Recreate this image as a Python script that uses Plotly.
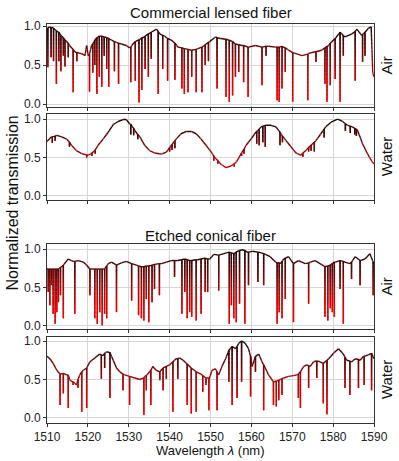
import numpy as np
import plotly.graph_objects as go
from plotly.colors import sample_colorscale

# ---- Commercial lensed fiber, air ----
air1_wl = [1510.0, 1510.5, 1511.5, 1512.8, 1514.4, 1515.5, 1516.8, 1518.5, 1519.3, 1519.7, 1520.1, 1520.9,
           1521.7, 1522.9, 1524.1, 1525.8, 1527.0, 1528.2, 1529.4, 1530.2, 1531.0, 1532.3, 1533.9, 1535.5,
           1536.8, 1537.6, 1538.8, 1540.4, 1542.0, 1543.7, 1545.3, 1546.9, 1548.5, 1549.8, 1551.2, 1552.4,
           1554.5, 1556.1, 1557.7, 1559.3, 1561.0, 1562.6, 1564.2, 1565.9, 1567.5, 1569.1, 1570.7, 1572.4,
           1574.0, 1575.6, 1577.2, 1578.9, 1580.5, 1581.7, 1582.9, 1584.6, 1585.8, 1587.0, 1587.8, 1588.6,
           1589.3, 1589.7, 1590.0]
air1_t = [0.97, 0.99, 0.98, 0.92, 0.82, 0.75, 0.67, 0.645, 0.62, 0.75, 0.62, 0.75,
          0.82, 0.87, 0.86, 0.82, 0.79, 0.77, 0.75, 0.72, 0.77, 0.82, 0.86, 0.92,
          0.96, 0.90, 0.87, 0.82, 0.73, 0.71, 0.69, 0.71, 0.75, 0.80, 0.86, 0.84,
          0.82, 0.77, 0.75, 0.73, 0.75, 0.73, 0.74, 0.73, 0.74, 0.69, 0.65, 0.62,
          0.65, 0.67, 0.69, 0.75, 0.84, 0.92, 0.86, 0.90, 0.96, 0.88, 0.92, 0.97,
          0.99, 0.40, 0.35]
air1_dip_wl = [1510.2, 1511.0, 1511.6, 1512.3, 1512.9, 1513.4, 1514.0, 1514.4, 1515.2, 1516.4, 1517.3, 1520.4,
               1521.2, 1521.7, 1522.2, 1522.8, 1523.4, 1524.0, 1524.6, 1525.1, 1526.5, 1527.5, 1530.5, 1531.6,
               1532.5, 1533.2, 1534.0, 1534.8, 1535.5, 1537.2, 1538.3, 1539.5, 1541.3, 1543.0, 1543.6, 1544.5,
               1545.4, 1546.5, 1547.9, 1548.7, 1549.5, 1551.6, 1553.8, 1554.6, 1555.4, 1556.1, 1556.9, 1558.1,
               1559.2, 1562.6, 1563.6, 1566.3, 1566.8, 1567.5, 1568.3, 1570.1, 1573.8, 1575.8, 1578.0, 1578.5,
               1579.3, 1580.5, 1581.7, 1582.5, 1585.4, 1587.2, 1587.8]
air1_dip_top = [0.97, 0.98, 0.97, 0.94, 0.92, 0.88, 0.85, 0.82, 0.78, 0.70, 0.66, 0.64,
                0.77, 0.82, 0.85, 0.87, 0.87, 0.86, 0.85, 0.84, 0.80, 0.78, 0.73, 0.80,
                0.82, 0.85, 0.87, 0.90, 0.92, 0.93, 0.88, 0.84, 0.78, 0.72, 0.71, 0.70,
                0.69, 0.70, 0.73, 0.76, 0.79, 0.85, 0.83, 0.82, 0.80, 0.77, 0.76, 0.75,
                0.73, 0.73, 0.74, 0.73, 0.73, 0.74, 0.72, 0.66, 0.64, 0.67, 0.72, 0.74,
                0.78, 0.84, 0.92, 0.88, 0.93, 0.89, 0.92]
air1_dip_low = [0.47, 0.60, 0.55, 0.26, 0.55, 0.42, 0.62, 0.48, 0.60, 0.15, 0.55, 0.16,
                0.40, 0.50, 0.13, 0.35, 0.22, 0.62, 0.45, 0.22, 0.42, 0.26, 0.28, 0.30,
                0.02, 0.18, 0.45, 0.35, 0.58, 0.13, 0.45, 0.30, 0.31, 0.20, 0.13, 0.15,
                0.35, 0.15, 0.15, 0.50, 0.55, 0.20, 0.09, 0.03, 0.11, 0.35, 0.41, 0.28,
                0.09, 0.24, 0.62, 0.05, 0.03, 0.20, 0.41, 0.03, 0.05, 0.54, 0.26, 0.03,
                0.24, 0.32, 0.03, 0.62, 0.30, 0.54, 0.62]

# ---- Commercial lensed fiber, water ----
water1_wl = [1510.0, 1511.1, 1512.4, 1513.6, 1514.8, 1516.0, 1517.2, 1518.5, 1520.1, 1521.3, 1522.5, 1523.7,
             1525.0, 1526.2, 1527.4, 1528.6, 1529.4, 1530.2, 1531.5, 1532.7, 1533.9, 1535.1, 1536.3, 1538.0,
             1539.2, 1540.4, 1541.6, 1542.8, 1544.1, 1545.3, 1546.5, 1547.7, 1548.9, 1550.2, 1551.4, 1552.6,
             1553.8, 1555.0, 1556.3, 1557.5, 1558.7, 1559.9, 1561.1, 1562.4, 1563.6, 1564.8, 1566.0, 1567.2,
             1568.5, 1569.7, 1570.9, 1572.1, 1573.3, 1574.6, 1575.8, 1577.0, 1578.2, 1579.5, 1581.1, 1582.3,
             1583.5, 1584.7, 1586.0, 1587.2, 1588.4, 1589.6, 1590.0]
water1_t = [0.71, 0.77, 0.79, 0.77, 0.74, 0.66, 0.59, 0.55, 0.53, 0.57, 0.66, 0.74,
            0.83, 0.93, 0.97, 0.995, 0.995, 0.94, 0.85, 0.77, 0.66, 0.59, 0.56, 0.545,
            0.57, 0.66, 0.74, 0.81, 0.84, 0.84, 0.81, 0.74, 0.66, 0.57, 0.48, 0.41,
            0.37, 0.39, 0.44, 0.55, 0.66, 0.74, 0.83, 0.90, 0.92, 0.92, 0.90, 0.81,
            0.72, 0.64, 0.56, 0.53, 0.59, 0.66, 0.72, 0.81, 0.90, 0.96, 1.0, 0.97,
            0.92, 0.90, 0.85, 0.68, 0.55, 0.44, 0.42]
water1_dip_wl = [1511.3, 1512.0, 1515.5, 1519.7, 1521.0, 1521.8, 1530.5, 1531.2, 1532.2, 1540.0, 1540.6, 1541.3,
                 1550.8, 1551.8, 1555.8, 1557.6, 1558.2, 1561.3, 1561.9, 1562.8, 1563.4, 1567.0, 1567.6, 1572.6,
                 1574.0, 1574.6, 1575.4, 1577.8, 1583.0, 1584.2, 1585.3, 1585.7]
water1_dip_top = [0.77, 0.78, 0.70, 0.535, 0.56, 0.60, 0.93, 0.88, 0.80, 0.63, 0.67, 0.72,
                  0.52, 0.46, 0.42, 0.56, 0.61, 0.84, 0.87, 0.91, 0.92, 0.83, 0.78, 0.56,
                  0.63, 0.66, 0.70, 0.87, 0.94, 0.91, 0.88, 0.87]
water1_dip_low = [0.69, 0.72, 0.64, 0.50, 0.52, 0.55, 0.80, 0.79, 0.74, 0.58, 0.60, 0.62,
                  0.46, 0.42, 0.38, 0.52, 0.55, 0.68, 0.66, 0.70, 0.64, 0.66, 0.70, 0.51,
                  0.58, 0.59, 0.58, 0.76, 0.85, 0.82, 0.80, 0.78]

# ---- Etched conical fiber, air ----
air2_wl = [1510.0, 1511.1, 1512.8, 1514.0, 1515.2, 1516.4, 1517.6, 1518.9, 1519.7, 1520.5, 1521.7, 1523.3,
           1524.1, 1525.0, 1525.8, 1527.0, 1528.2, 1529.4, 1530.7, 1531.9, 1533.1, 1534.7, 1536.3, 1538.0,
           1539.2, 1540.4, 1542.0, 1543.7, 1545.3, 1546.9, 1548.5, 1549.8, 1550.8, 1552.0, 1553.3, 1554.5,
           1555.7, 1556.9, 1557.7, 1558.9, 1560.2, 1561.8, 1563.4, 1564.6, 1565.9, 1567.1, 1567.9, 1569.1,
           1570.3, 1571.5, 1573.2, 1574.4, 1575.6, 1576.8, 1578.0, 1579.3, 1580.5, 1581.7, 1582.9, 1584.1,
           1585.4, 1586.6, 1587.8, 1589.0, 1589.8, 1590.0]
air2_t = [0.74, 0.74, 0.74, 0.79, 0.87, 0.84, 0.85, 0.83, 0.79, 0.74, 0.74, 0.74,
          0.74, 0.81, 0.83, 0.79, 0.82, 0.84, 0.81, 0.79, 0.77, 0.78, 0.80, 0.81,
          0.83, 0.85, 0.85, 0.87, 0.85, 0.86, 0.88, 0.87, 0.93, 0.92, 0.94, 0.96,
          0.94, 0.98, 0.99, 0.96, 0.97, 0.96, 0.93, 0.90, 0.83, 0.81, 0.87, 0.90,
          0.81, 0.85, 0.81, 0.83, 0.85, 0.81, 0.77, 0.79, 0.83, 0.85, 0.83, 0.81,
          0.90, 0.85, 0.87, 0.94, 0.83, 0.80]
air2_dip_wl = [1510.3, 1510.7, 1511.1, 1511.5, 1512.0, 1512.4, 1512.8, 1513.3, 1514.0, 1516.8, 1520.5, 1521.7,
               1522.3, 1522.9, 1523.5, 1524.1, 1524.6, 1527.0, 1530.7, 1532.4, 1533.1, 1533.7, 1534.3, 1534.9,
               1535.7, 1536.3, 1537.5, 1541.2, 1543.0, 1543.7, 1544.3, 1544.9, 1545.4, 1546.5, 1547.7, 1548.7,
               1549.3, 1552.0, 1554.6, 1555.1, 1555.7, 1556.3, 1557.1, 1558.4, 1559.3, 1561.6, 1563.0, 1566.3,
               1566.8, 1567.5, 1568.3, 1570.3, 1574.0, 1578.0, 1578.7, 1579.3, 1579.8, 1580.3, 1581.7, 1582.5,
               1584.5, 1586.6, 1589.8]
air2_dip_top = [0.74, 0.74, 0.74, 0.74, 0.74, 0.74, 0.74, 0.76, 0.79, 0.84, 0.74, 0.74,
                0.74, 0.74, 0.74, 0.74, 0.78, 0.79, 0.81, 0.78, 0.77, 0.77, 0.78, 0.78,
                0.79, 0.80, 0.81, 0.85, 0.86, 0.87, 0.86, 0.85, 0.85, 0.86, 0.87, 0.88,
                0.87, 0.92, 0.96, 0.95, 0.94, 0.96, 0.98, 0.98, 0.96, 0.96, 0.94, 0.82,
                0.82, 0.84, 0.88, 0.81, 0.82, 0.77, 0.78, 0.79, 0.81, 0.83, 0.85, 0.84,
                0.83, 0.85, 0.83]
air2_dip_low = [0.44, 0.27, 0.53, 0.16, 0.03, 0.18, 0.31, 0.40, 0.10, 0.16, 0.40, 0.10,
                0.03, 0.18, 0.01, 0.16, 0.10, 0.18, 0.33, 0.14, 0.10, 0.07, 0.35, 0.05,
                0.31, 0.48, 0.40, 0.64, 0.16, 0.44, 0.10, 0.18, 0.12, 0.07, 0.16, 0.44,
                0.44, 0.46, 0.03, 0.27, 0.10, 0.05, 0.29, 0.03, 0.53, 0.57, 0.53, 0.03,
                0.18, 0.10, 0.35, 0.05, 0.29, 0.12, 0.07, 0.23, 0.18, 0.12, 0.48, 0.03,
                0.61, 0.53, 0.40]

# ---- Etched conical fiber, water ----
water2_wl = [1510.0, 1510.7, 1511.5, 1512.4, 1513.2, 1514.0, 1514.8, 1515.6, 1516.4, 1517.2, 1518.0, 1518.9,
             1519.7, 1520.5, 1521.7, 1522.9, 1523.7, 1524.6, 1525.4, 1526.2, 1527.0, 1527.8, 1529.0, 1530.2,
             1531.5, 1532.7, 1533.9, 1535.1, 1535.9, 1536.7, 1537.6, 1538.4, 1539.2, 1540.0, 1540.8, 1541.6,
             1542.4, 1543.3, 1544.1, 1545.3, 1546.5, 1547.7, 1548.9, 1549.6, 1550.4, 1551.2, 1552.0, 1552.8,
             1553.7, 1554.5, 1555.3, 1556.1, 1556.9, 1557.7, 1558.5, 1559.3, 1560.2, 1561.0, 1561.8, 1562.6,
             1563.4, 1564.2, 1565.4, 1566.7, 1567.9, 1569.1, 1570.3, 1571.1, 1571.9, 1572.8, 1573.6, 1574.4,
             1575.2, 1576.4, 1577.6, 1578.9, 1580.1, 1581.3, 1582.5, 1583.3, 1584.6, 1585.4, 1586.6, 1587.4,
             1588.6, 1589.4, 1590.0]
water2_t = [0.80, 0.77, 0.71, 0.62, 0.57, 0.58, 0.56, 0.49, 0.47, 0.43, 0.56, 0.62,
            0.65, 0.73, 0.78, 0.83, 0.81, 0.86, 0.85, 0.75, 0.65, 0.60, 0.56, 0.54,
            0.52, 0.50, 0.54, 0.60, 0.67, 0.62, 0.60, 0.65, 0.67, 0.69, 0.73, 0.77,
            0.78, 0.75, 0.71, 0.65, 0.60, 0.57, 0.52, 0.52, 0.62, 0.64, 0.56, 0.67,
            0.77, 0.88, 0.93, 0.90, 0.97, 1.0, 0.97, 0.90, 0.67, 0.80, 0.83, 0.73,
            0.65, 0.56, 0.47, 0.49, 0.52, 0.54, 0.55, 0.56, 0.60, 0.67, 0.69, 0.67,
            0.73, 0.74, 0.71, 0.77, 0.84, 0.90, 0.83, 0.75, 0.73, 0.77, 0.75, 0.80,
            0.82, 0.84, 0.77]
water2_dip_wl = [1513.2, 1514.0, 1515.2, 1516.4, 1517.6, 1518.5, 1519.7, 1523.3, 1524.1, 1525.4, 1528.6, 1530.2,
                 1533.7, 1534.3, 1535.4, 1537.6, 1538.4, 1539.2, 1540.8, 1542.0, 1544.3, 1545.3, 1546.5, 1548.1,
                 1548.9, 1549.6, 1551.6, 1554.5, 1555.3, 1556.5, 1557.6, 1559.8, 1561.0, 1563.0, 1565.4, 1566.1,
                 1566.7, 1567.5, 1571.5, 1572.0, 1574.0, 1576.0, 1577.6, 1578.5, 1582.9, 1584.1, 1586.2, 1587.6,
                 1589.4]
water2_dip_top = [0.57, 0.58, 0.56, 0.47, 0.50, 0.60, 0.65, 0.82, 0.84, 0.85, 0.57, 0.54,
                  0.52, 0.55, 0.62, 0.60, 0.65, 0.67, 0.73, 0.77, 0.70, 0.65, 0.60, 0.55,
                  0.52, 0.50, 0.60, 0.88, 0.93, 0.93, 1.0, 0.80, 0.80, 0.69, 0.47, 0.48,
                  0.49, 0.51, 0.57, 0.60, 0.68, 0.74, 0.71, 0.75, 0.79, 0.74, 0.76, 0.80,
                  0.84]
water2_dip_low = [0.17, 0.32, 0.13, 0.43, 0.39, 0.08, 0.13, 0.51, 0.65, 0.26, 0.36, 0.17,
                  0.04, 0.36, 0.17, 0.49, 0.36, 0.51, 0.08, 0.51, 0.17, 0.06, 0.08, 0.34,
                  0.43, 0.10, 0.10, 0.47, 0.17, 0.26, 0.47, 0.28, 0.60, 0.10, 0.17, 0.15,
                  0.23, 0.30, 0.26, 0.13, 0.39, 0.52, 0.19, 0.05, 0.39, 0.30, 0.39, 0.43,
                  0.36]

panels = [
    (air1_wl, air1_t, air1_dip_wl, air1_dip_top, air1_dip_low),
    (water1_wl, water1_t, water1_dip_wl, water1_dip_top, water1_dip_low),
    (air2_wl, air2_t, air2_dip_wl, air2_dip_top, air2_dip_low),
    (water2_wl, water2_t, water2_dip_wl, water2_dip_top, water2_dip_low),
]
side_labels = ["Air", "Water", "Air", "Water"]

# colour by transmission: red at the bottom, near black at the top
cscale = [[0.0, "rgb(245,0,0)"], [0.3, "rgb(215,0,0)"], [0.5, "rgb(160,8,8)"],
          [0.7, "rgb(105,5,5)"], [0.85, "rgb(62,4,4)"], [1.0, "rgb(28,6,6)"]]
levels = np.round(np.arange(0, 1.0001, 0.05), 3)
nbins = len(levels) - 1
bin_colors = sample_colorscale(cscale, [(i + 0.5) / nbins for i in range(nbins)])


def build_path(wl, t, dwl, dtop, dlow):
    pts = [(w, v, 0) for w, v in zip(wl, t)]
    for w, a, b in zip(dwl, dtop, dlow):
        pts += [(w, a, 1), (w, b, 2), (w, a, 3)]
    pts.sort(key=lambda p: (p[0], p[2]))
    return [p[0] for p in pts], [p[1] for p in pts]


def colour_segments(xs, ys):
    bx = [[] for _ in range(nbins)]
    by = [[] for _ in range(nbins)]
    for i in range(len(xs) - 1):
        x0, y0, x1, y1 = xs[i], ys[i], xs[i + 1], ys[i + 1]
        lo, hi = min(y0, y1), max(y0, y1)
        inner = sorted([l for l in levels if lo < l < hi], reverse=(y1 < y0))
        cuts = [y0] + inner + [y1]
        for ya, yb in zip(cuts[:-1], cuts[1:]):
            if y1 != y0:
                xa = x0 + (x1 - x0) * (ya - y0) / (y1 - y0)
                xb = x0 + (x1 - x0) * (yb - y0) / (y1 - y0)
            else:
                xa, xb = x0, x1
            k = int(np.clip(np.floor((ya + yb) / 2 / 0.05), 0, nbins - 1))
            bx[k] += [xa, xb, None]
            by[k] += [ya, yb, None]
    return bx, by


fig = go.Figure()
for p, (wl, t, dwl, dtop, dlow) in enumerate(panels):
    xs, ys = build_path(wl, t, dwl, dtop, dlow)
    bx, by = colour_segments(xs, ys)
    sfx = "" if p == 0 else str(p + 1)
    for k in range(nbins):
        if not bx[k]:
            continue
        fig.add_trace(go.Scatter(x=bx[k], y=by[k], mode="lines",
                                 line=dict(color=bin_colors[k], width=1.4),
                                 xaxis="x" + sfx, yaxis="y" + sfx,
                                 showlegend=False, hoverinfo="skip"))

domains = [[0.792, 1.0], [0.559, 0.774], [0.2356, 0.4486], [0.0, 0.2155]]
yranges = [[-0.038, 1.026], [-0.052, 1.065], [-0.039, 1.065], [-0.065, 1.052]]
axcol = "#333333"
gridcol = "#d6d6d6"

layout = dict(
    width=399, height=461,
    margin=dict(l=47, r=25, t=24, b=38),
    paper_bgcolor="white", plot_bgcolor="white",
    font=dict(family="Liberation Sans, Arial, sans-serif", size=12, color="#222222"),
)
for p in range(4):
    sfx = "" if p == 0 else str(p + 1)
    layout["xaxis" + sfx] = dict(
        domain=[0, 1], anchor="y" + sfx, range=[1510, 1590], tick0=1510, dtick=10,
        showgrid=True, gridcolor=gridcol, gridwidth=1.2, zeroline=False,
        showline=True, mirror=True, linecolor=axcol, linewidth=1,
        ticks="outside", ticklen=3, tickcolor=axcol,
        showticklabels=(p == 3), tickfont=dict(size=12),
    )
    layout["yaxis" + sfx] = dict(
        domain=domains[p], anchor="x" + sfx, range=yranges[p],
        tickvals=[0, 0.5, 1], ticktext=["0.0", "0.5", "1.0"],
        showgrid=True, gridcolor=gridcol, gridwidth=1.2, zeroline=False,
        showline=True, mirror=True, linecolor=axcol, linewidth=1,
        ticks="outside", ticklen=3, tickcolor=axcol, tickfont=dict(size=12),
    )
fig.update_layout(**layout)

ann = [
    dict(text="Commercial lensed fiber", x=0.5, y=1.03, xref="paper", yref="paper",
         showarrow=False, font=dict(size=15, color="#111111"), xanchor="center", yanchor="middle"),
    dict(text="Etched conical fiber", x=0.5, y=0.469, xref="paper", yref="paper",
         showarrow=False, font=dict(size=15, color="#111111"), xanchor="center", yanchor="middle"),
    dict(text="Normalized transmission", x=-0.106, y=0.551, xref="paper", yref="paper",
         showarrow=False, textangle=-90, font=dict(size=16, color="#111111"),
         xanchor="center", yanchor="middle"),
    dict(text="Wavelength <i>λ</i> (nm)", x=0.5, y=-0.068, xref="paper", yref="paper",
         showarrow=False, font=dict(size=13, color="#111111"), xanchor="center", yanchor="middle"),
]
for p, lab in enumerate(side_labels):
    d = domains[p]
    ann.append(dict(text=lab, x=1.037, y=(d[0] + d[1]) / 2, xref="paper", yref="paper",
                    showarrow=False, textangle=-90, font=dict(size=15, color="#111111"),
                    xanchor="center", yanchor="middle"))
fig.update_layout(annotations=ann)

fig.write_html("out.html", config={"displayModeBar": False},
               post_script="document.body.style.margin='0';")
